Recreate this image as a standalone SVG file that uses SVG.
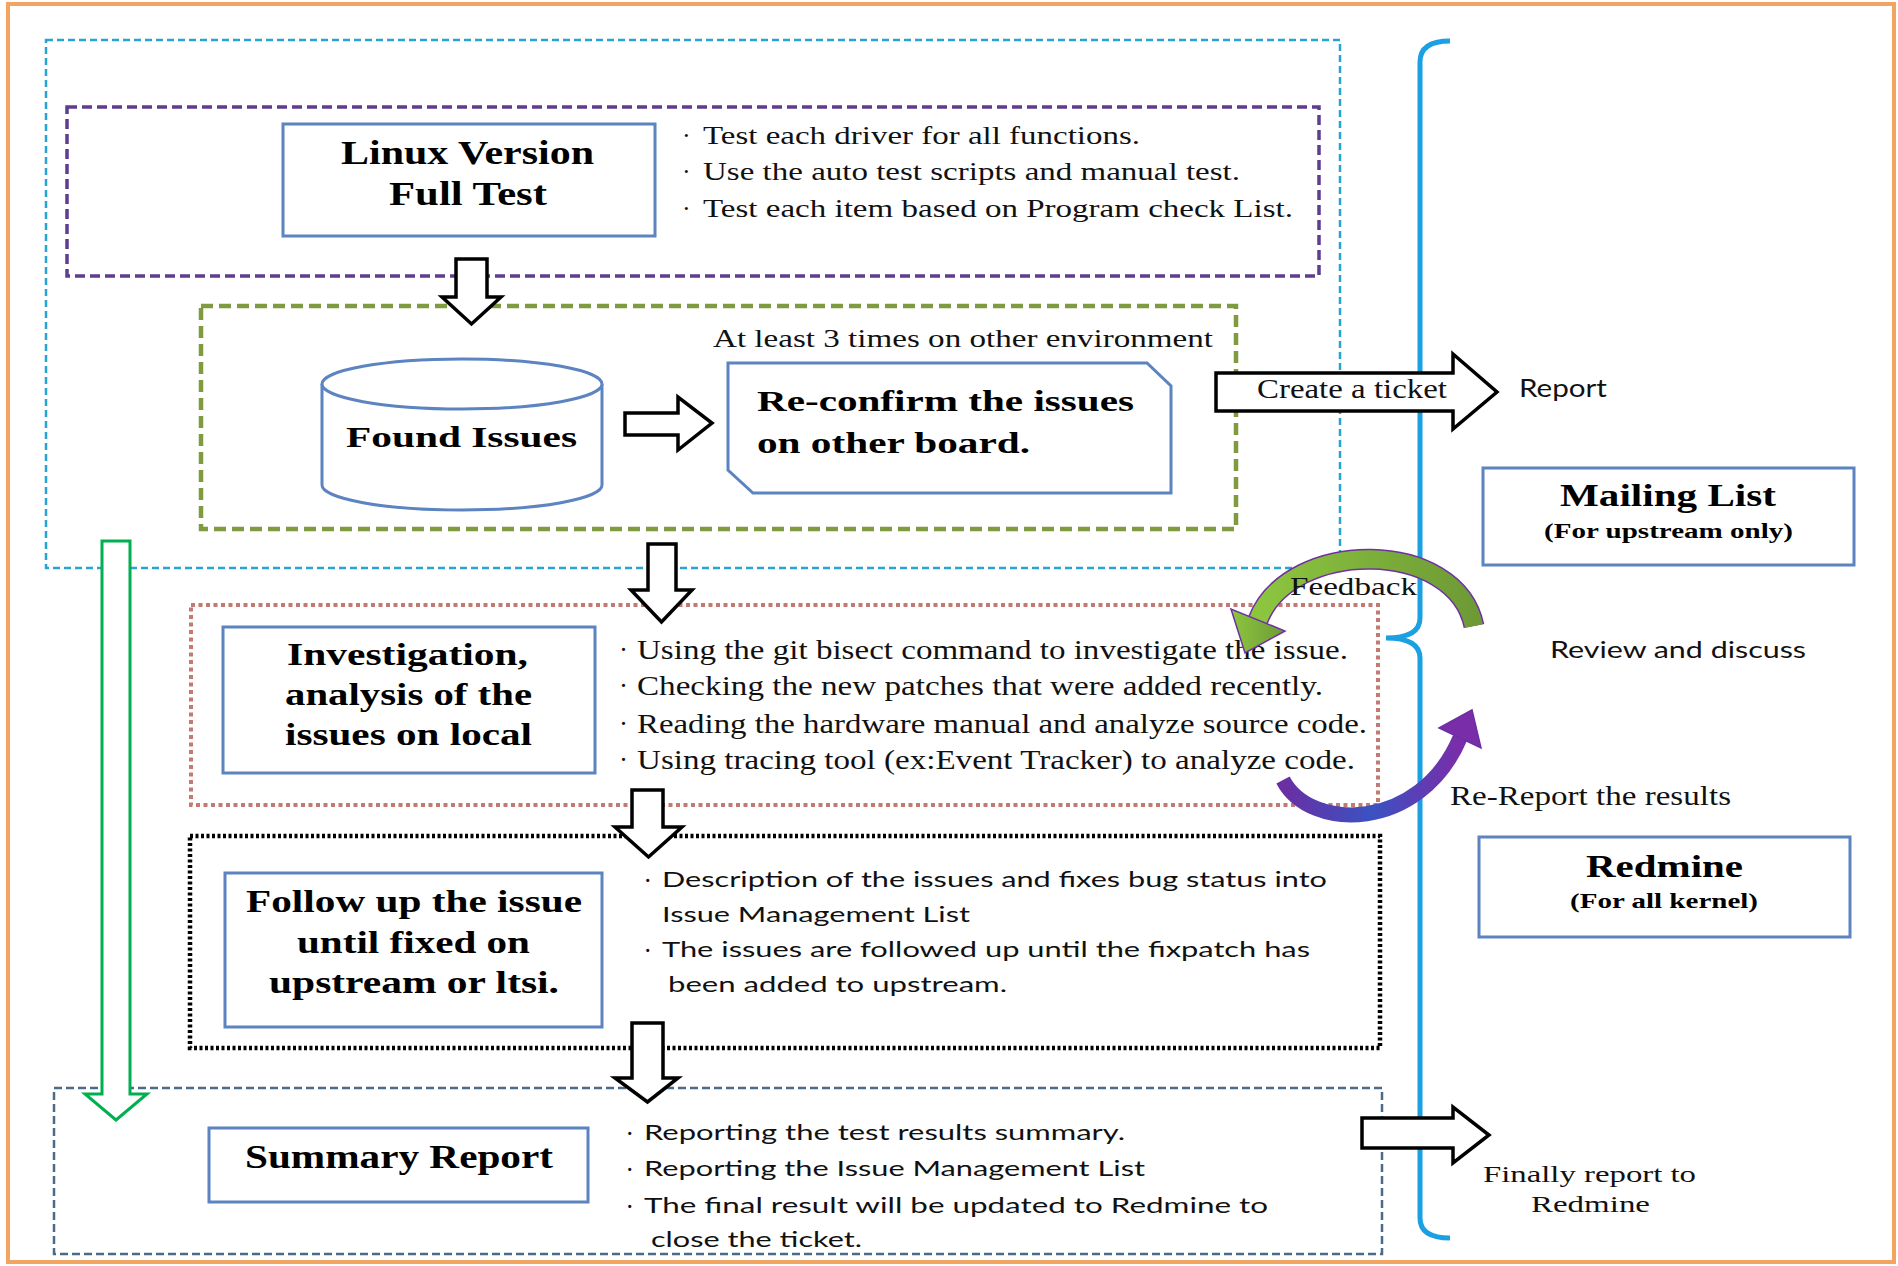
<svg xmlns="http://www.w3.org/2000/svg" width="1898" height="1266" viewBox="0 0 1898 1266">
<style>
.tb{font-family:"Liberation Serif","Times New Roman",serif;font-weight:bold;fill:#000}
.tr{font-family:"Liberation Serif","Times New Roman",serif;fill:#111}
.ts{font-family:Lato,"Liberation Sans",Arial,sans-serif;fill:#111}
.box{fill:#fff;stroke:#5B84C0;stroke-width:3}
.harrow{fill:#fff;stroke:#000;stroke-width:3.5;stroke-linejoin:miter}
</style>
<defs>
<linearGradient id="gFb" x1="0" y1="0" x2="1" y2="0">
<stop offset="0" stop-color="#8CC63F"/>
<stop offset="1" stop-color="#6E9A36"/>
</linearGradient>
<linearGradient id="gRr" x1="0" y1="0" x2="1" y2="0">
<stop offset="0" stop-color="#6A2FA3"/>
<stop offset="0.5" stop-color="#3A52C2"/>
<stop offset="1" stop-color="#7A2DA8"/>
</linearGradient>
</defs>
<rect width="1898" height="1266" fill="#fff"/>
<rect x="8" y="4" width="1886" height="1258" fill="none" stroke="#F2A561" stroke-width="4"/>

<g id="frames" fill="none">
<rect x="46" y="40" width="1294" height="528" stroke="#29A3D4" stroke-width="2.5" stroke-dasharray="7 4"/>
<rect x="67" y="107" width="1252" height="169" stroke="#5E3C8E" stroke-width="3.5" stroke-dasharray="10 5"/>
<rect x="201" y="306" width="1035" height="223" stroke="#7F9A3F" stroke-width="4.5" stroke-dasharray="12 6"/>
<rect x="191" y="605" width="1187" height="200" stroke="#C27A72" stroke-width="4" stroke-dasharray="4 3.5"/>
<rect x="190" y="836" width="1190" height="212" stroke="#000" stroke-width="4.5" stroke-dasharray="3 2.5"/>
<rect x="54" y="1088" width="1328" height="166" stroke="#4D6A8A" stroke-width="2.5" stroke-dasharray="8 4"/>
</g>

<g id="brace">
<path d="M1450,41 Q1420,41 1420,62 V618 Q1420,638 1386,638 Q1420,638 1420,658 V1218 Q1420,1238 1450,1238" fill="none" stroke="#1BA1E2" stroke-width="5"/>
</g>

<g id="linux-full-test">
<rect class="box" x="283" y="124" width="372" height="112"/>
<text class="tb" x="341" y="164" font-size="34" textLength="253" lengthAdjust="spacingAndGlyphs">Linux Version</text>
<text class="tb" x="389" y="205" font-size="34" textLength="158" lengthAdjust="spacingAndGlyphs">Full Test</text>
</g>

<g id="test-bullets">
<text class="tr" x="682" y="144" font-size="26">·</text>
<text class="tr" x="682" y="180" font-size="26">·</text>
<text class="tr" x="682" y="217" font-size="26">·</text>
<text class="tr" x="703" y="144" font-size="26" textLength="437" lengthAdjust="spacingAndGlyphs">Test each driver for all functions.</text>
<text class="tr" x="703" y="180" font-size="26" textLength="537" lengthAdjust="spacingAndGlyphs">Use the auto test scripts and manual test.</text>
<text class="tr" x="703" y="217" font-size="26" textLength="590" lengthAdjust="spacingAndGlyphs">Test each item based on Program check List.</text>
</g>

<g id="at-least-label">
<text class="tr" x="713" y="347" font-size="26" textLength="500" lengthAdjust="spacingAndGlyphs">At least 3 times on other environment</text>
</g>

<g id="found-issues">
<path d="M322,384 V485 A140,25 0 0 0 602,485 V384" fill="#fff" stroke="#5B84C0" stroke-width="3"/>
<ellipse cx="462" cy="384" rx="140" ry="25" fill="#fff" stroke="#5B84C0" stroke-width="3"/>
<text class="tb" x="346" y="447" font-size="30" textLength="231" lengthAdjust="spacingAndGlyphs">Found Issues</text>
</g>

<g id="reconfirm">
<polygon class="box" points="728,363 1147,363 1171,386 1171,493 753,493 728,470"/>
<text class="tb" x="757" y="411" font-size="29" textLength="377" lengthAdjust="spacingAndGlyphs">Re-confirm the issues</text>
<text class="tb" x="757" y="453" font-size="29" textLength="273" lengthAdjust="spacingAndGlyphs">on other board.</text>
</g>

<g id="mailing-list">
<rect class="box" x="1483" y="468" width="371" height="97"/>
<text class="tb" x="1560" y="506" font-size="32" textLength="216" lengthAdjust="spacingAndGlyphs">Mailing List</text>
<text class="tb" x="1544" y="538" font-size="20" textLength="249" lengthAdjust="spacingAndGlyphs">(For upstream only)</text>
</g>

<g id="investigation">
<rect class="box" x="223" y="627" width="372" height="146"/>
<text class="tb" x="287" y="665" font-size="31" textLength="241" lengthAdjust="spacingAndGlyphs">Investigation,</text>
<text class="tb" x="285" y="705" font-size="31" textLength="247" lengthAdjust="spacingAndGlyphs">analysis of the</text>
<text class="tb" x="285" y="745" font-size="31" textLength="247" lengthAdjust="spacingAndGlyphs">issues on local</text>
</g>

<g id="investigation-bullets">
<text class="tr" x="619" y="659" font-size="27">·</text>
<text class="tr" x="619" y="695" font-size="27">·</text>
<text class="tr" x="619" y="733" font-size="27">·</text>
<text class="tr" x="619" y="769" font-size="27">·</text>
<text class="tr" x="637" y="659" font-size="27" textLength="711" lengthAdjust="spacingAndGlyphs">Using the git bisect command to investigate the issue.</text>
<text class="tr" x="637" y="695" font-size="27" textLength="686" lengthAdjust="spacingAndGlyphs">Checking the new patches that were added recently.</text>
<text class="tr" x="637" y="733" font-size="27" textLength="730" lengthAdjust="spacingAndGlyphs">Reading the hardware manual and analyze source code.</text>
<text class="tr" x="637" y="769" font-size="27" textLength="718" lengthAdjust="spacingAndGlyphs">Using tracing tool (ex:Event Tracker) to analyze code.</text>
</g>

<g id="review-label">
<text class="ts" x="1550" y="658" font-size="23" textLength="256" lengthAdjust="spacingAndGlyphs">Review and discuss</text>
</g>

<g id="redmine">
<rect class="box" x="1479" y="837" width="371" height="100"/>
<text class="tb" x="1586" y="877" font-size="31" textLength="157" lengthAdjust="spacingAndGlyphs">Redmine</text>
<text class="tb" x="1570" y="908" font-size="20" textLength="188" lengthAdjust="spacingAndGlyphs">(For all kernel)</text>
</g>

<g id="follow-up">
<rect class="box" x="225" y="873" width="377" height="154"/>
<text class="tb" x="246" y="912" font-size="31" textLength="336" lengthAdjust="spacingAndGlyphs">Follow up the issue</text>
<text class="tb" x="297" y="953" font-size="31" textLength="233" lengthAdjust="spacingAndGlyphs">until fixed on</text>
<text class="tb" x="269" y="993" font-size="31" textLength="290" lengthAdjust="spacingAndGlyphs">upstream or ltsi.</text>
</g>

<g id="follow-up-bullets">
<text class="ts" x="645" y="887" font-size="21">·</text>
<text class="ts" x="645" y="957" font-size="21">·</text>
<text class="ts" x="662" y="887" font-size="21" textLength="665" lengthAdjust="spacingAndGlyphs">Description of the issues and fixes bug status into</text>
<text class="ts" x="662" y="922" font-size="21" textLength="308" lengthAdjust="spacingAndGlyphs">Issue Management List</text>
<text class="ts" x="662" y="957" font-size="21" textLength="648" lengthAdjust="spacingAndGlyphs">The issues are followed up until the fixpatch has</text>
<text class="ts" x="668" y="992" font-size="21" textLength="339" lengthAdjust="spacingAndGlyphs">been added to upstream.</text>
</g>

<g id="summary-report">
<rect class="box" x="209" y="1128" width="379" height="74"/>
<text class="tb" x="245" y="1168" font-size="34" textLength="308" lengthAdjust="spacingAndGlyphs">Summary Report</text>
</g>

<g id="summary-bullets">
<text class="ts" x="627" y="1140" font-size="21">·</text>
<text class="ts" x="627" y="1176" font-size="21">·</text>
<text class="ts" x="627" y="1213" font-size="21">·</text>
<text class="ts" x="644" y="1140" font-size="21" textLength="481" lengthAdjust="spacingAndGlyphs">Reporting the test results summary.</text>
<text class="ts" x="644" y="1176" font-size="21" textLength="501" lengthAdjust="spacingAndGlyphs">Reporting the Issue Management List</text>
<text class="ts" x="644" y="1213" font-size="21" textLength="624" lengthAdjust="spacingAndGlyphs">The final result will be updated to Redmine to</text>
<text class="ts" x="651" y="1247" font-size="21" textLength="211" lengthAdjust="spacingAndGlyphs">close the ticket.</text>
</g>

<g id="connectors">
<polygon class="harrow" points="456,259 487,259 487,297 501,297 471.5,324 442,297 456,297"/>
<polygon class="harrow" points="625,413 678,413 678,397 712,423 678,450 678,435 625,435"/>
<polygon class="harrow" points="648,544 676,544 676,590 692,590 661.5,622 631,590 648,590"/>
<polygon class="harrow" points="632,790 663,790 663,827 682,827 648.5,857 615,827 632,827"/>
<polygon class="harrow" points="632,1023 663,1023 663,1078 678,1078 647.5,1102 615,1078 632,1078"/>
<polygon points="102,541 130,541 130,1094 147,1094 116,1120 85,1094 102,1094" fill="#fff" stroke="#00B050" stroke-width="3"/>
<polygon class="harrow" points="1216,373 1453,373 1453,354 1497,392 1453,429 1453,411 1216,411"/>
<text class="tr" x="1257" y="398" font-size="27" textLength="190" lengthAdjust="spacingAndGlyphs">Create a ticket</text>
<polygon class="harrow" points="1362,1118 1453,1118 1453,1107 1489,1135 1453,1163 1453,1148 1362,1148"/>
<path d="M1474,626 C1456,538 1290,538 1258,620" fill="none" stroke="#7030A0" stroke-width="21"/>
<path d="M1474,626 C1456,538 1290,538 1258,620" fill="none" stroke="url(#gFb)" stroke-width="18"/>
<polygon points="1285,631 1245,653 1231,609" fill="url(#gFb)" stroke="#7030A0" stroke-width="1.5"/>
<path d="M1283,780 C1310,832 1420,832 1460,738" fill="none" stroke="url(#gRr)" stroke-width="15"/>
<polygon points="1481,748 1472,710 1439,728" fill="#7A2DA8" stroke="#6A2FA3" stroke-width="1.5"/>
</g>

<g id="labels">
<text class="ts" x="1519" y="397" font-size="25" textLength="88" lengthAdjust="spacingAndGlyphs">Report</text>
<text class="tr" x="1290" y="595" font-size="26" textLength="127" lengthAdjust="spacingAndGlyphs">Feedback</text>
<text class="tr" x="1450" y="805" font-size="27" textLength="281" lengthAdjust="spacingAndGlyphs">Re-Report the results</text>
<text class="tr" x="1483" y="1182" font-size="24" textLength="213" lengthAdjust="spacingAndGlyphs">Finally report to</text>
<text class="tr" x="1531" y="1212" font-size="24" textLength="119" lengthAdjust="spacingAndGlyphs">Redmine</text>
</g>
</svg>
